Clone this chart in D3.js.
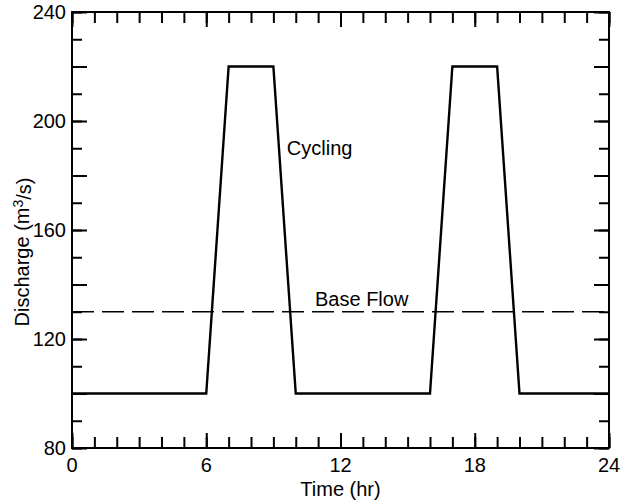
<!DOCTYPE html>
<html lang="en">
  <head>
    <meta charset="utf-8">
    <title>Cycling discharge</title>
    <script src="https://d3js.org/d3.v7.min.js"></script>
    <style>
      body { margin: 0; background: #fff; }
      text { font-family: "Liberation Sans", Arial, sans-serif; fill: #000; }
    </style>
  </head>
  <body>
    <script>
      // cycling discharge, hour -> m3/s
      var cycleHours = [0, 6, 7, 9, 10, 16, 17, 19, 20, 24];
      var cycleFlow = [100, 100, 220, 220, 100, 100, 220, 220, 100, 100];
      var baseHours = [0, 24];
      var baseFlow = [130, 130];
      var xTickLabels = [0, 6, 12, 18, 24];
      var yTickLabels = [80, 120, 160, 200, 240];

      var width = 623,
          height = 500,
          margin = {top: 12, right: 14, bottom: 52, left: 72};

      var x = d3.scaleLinear().domain([0, 24]).range([margin.left, width - margin.right]);
      var y = d3.scaleLinear().domain([80, 240]).range([height - margin.bottom, margin.top]);

      var svg = d3.select("body").append("svg")
          .attr("width", width)
          .attr("height", height);

      var fs = 20;

      // minor ticks every hour / 10 units, major every 6 hr / 20 units
      var minorX = d3.range(0, 25, 1),
          majorX = d3.range(0, 25, 6),
          minorY = d3.range(80, 241, 10),
          majorY = d3.range(80, 241, 20);

      function drawAxis(gen, vals, size, tx, ty) {
        var g = svg.append("g")
            .attr("transform", "translate(" + tx + "," + ty + ")")
            .call(gen.tickValues(vals).tickSize(size).tickSizeOuter(0).tickFormat(""));
        g.select(".domain").remove();
        g.selectAll("line").attr("stroke", "#000").attr("stroke-width", 2);
        return g;
      }

      var y0 = y(80), y1 = y(240), x0 = x(0), x1 = x(24);
      // bottom / top, ticks pointing inward
      drawAxis(d3.axisTop(x), minorX, 11, 0, y0);
      drawAxis(d3.axisTop(x), majorX, 15, 0, y0);
      drawAxis(d3.axisBottom(x), minorX, 11, 0, y1);
      drawAxis(d3.axisBottom(x), majorX, 15, 0, y1);
      // left / right
      drawAxis(d3.axisRight(y), minorY, 10, x0, 0);
      drawAxis(d3.axisRight(y), majorY, 15, x0, 0);
      drawAxis(d3.axisLeft(y), minorY, 10, x1, 0);
      drawAxis(d3.axisLeft(y), majorY, 15, x1, 0);

      // frame
      svg.append("rect")
          .attr("x", x0).attr("y", y1)
          .attr("width", x1 - x0).attr("height", y0 - y1)
          .attr("fill", "none").attr("stroke", "#000").attr("stroke-width", 2);

      // tick labels
      svg.selectAll(".xl").data(xTickLabels).enter().append("text")
          .attr("x", function(d) { return x(d); })
          .attr("y", y0 + 24)
          .attr("text-anchor", "middle")
          .attr("font-size", fs)
          .text(function(d) { return d; });

      svg.selectAll(".yl").data(yTickLabels).enter().append("text")
          .attr("x", x0 - 6)
          .attr("y", function(d) { return y(d); })
          .attr("dy", "0.36em")
          .attr("text-anchor", "end")
          .attr("font-size", fs)
          .text(function(d) { return d; });

      // axis titles
      svg.append("text")
          .attr("x", (x0 + x1) / 2)
          .attr("y", 496)
          .attr("text-anchor", "middle")
          .attr("font-size", fs)
          .text("Time (hr)");

      var yt = svg.append("text")
          .attr("transform", "translate(29,252)rotate(-90)")
          .attr("text-anchor", "middle")
          .attr("font-size", fs);
      yt.append("tspan").text("Discharge (m");
      yt.append("tspan").attr("dy", "-0.4em").attr("font-size", fs * 0.7).text("3");
      yt.append("tspan").attr("dy", "0.4em").text("/s)");

      // data lines
      var line = d3.line()
          .x(function(d) { return x(d[0]); })
          .y(function(d) { return y(d[1]); });

      svg.append("path")
          .datum(d3.zip(baseHours, baseFlow))
          .attr("d", line)
          .attr("fill", "none")
          .attr("stroke", "#000")
          .attr("stroke-width", 1.6)
          .attr("stroke-dasharray", "22,8");

      svg.append("path")
          .datum(d3.zip(cycleHours, cycleFlow))
          .attr("d", line)
          .attr("fill", "none")
          .attr("stroke", "#000")
          .attr("stroke-width", 2.4);

      // annotations
      svg.append("text")
          .attr("x", x(9.6))
          .attr("y", y(187.5))
          .attr("font-size", fs)
          .text("Cycling");

      svg.append("text")
          .attr("x", x(10.86))
          .attr("y", y(132))
          .attr("font-size", fs)
          .text("Base Flow");
    </script>
  </body>
</html>
